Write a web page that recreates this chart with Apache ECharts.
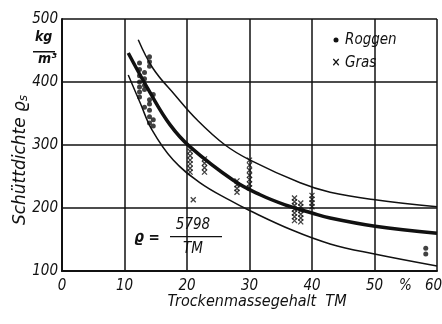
<!DOCTYPE html>
<html><head><meta charset="utf-8">
<script src="https://cdn.jsdelivr.net/npm/echarts@6/dist/echarts.min.js"></script>
<style>html,body{margin:0;padding:0;background:#fff}#c{width:442px;height:324px}</style>
</head><body><div id="c"></div>
<script>
var xTicks = [0, 10, 20, 30, 40, 50, 60];
var yTicks = [100, 200, 300, 400, 500];

var roggenTM  = [12.4,12.4,12.4,12.4,12.4,12.4,12.4, 13.2,13.2,13.2,13.2,13.2, 14.0,14.0,14.0,14.0,14.0,14.0,14.0,14.0, 14.6,14.6,14.6, 58.2,58.2];
var roggenRho = [430,420,410,400,392,384,376, 415,405,395,388,360, 440,432,425,372,365,355,345,335, 380,340,330, 136,127];

var grasTM  = [20.5,20.5,20.5,20.5,20.5,20.5, 21.0, 22.8,22.8,22.8,22.8, 28.0,28.0,28.0,28.0, 30.0,30.0,30.0,30.0,30.0,30.0,30.0, 37.2,37.2,37.2,37.2,37.2,37.2,37.2, 38.2,38.2,38.2,38.2,38.2,38.2, 40.0,40.0,40.0,40.0];
var grasRho = [290,283,276,270,263,257, 213, 278,271,264,257, 243,237,231,225, 276,268,260,252,245,238,232, 216,210,204,198,192,186,180, 208,202,196,190,184,178, 220,214,208,202];

var upperTM  = [12.2,14.6,18.1,21.6,26.1,30.1,38.1,42.9,50.1,60];
var upperRho = [467,421,379,340,300,276,240,225,213,202];
var midTM    = [10.6,14.1,17.3,20.5,27.4,31.7,35.7,40,42.9,50.1,60];
var midRho   = [446,383,332,297,244,221,205,192,184,171,160];
var lowerTM  = [10.6,12.5,14.4,17.8,22.1,26.9,30,36.8,42.9,50,60];
var lowerRho = [411,367,324,276,240,212,196,165,143,127,108];

function pairs(a, b) { return a.map(function (v, i) { return [v, b[i]]; }); }

var FONT = '"Liberation Sans Narrow","DejaVu Sans Condensed",sans-serif';
var INK = '#111';

var chart = echarts.init(document.getElementById('c'));
chart.setOption({
  animation: false,
  backgroundColor: '#fff',
  grid: { left: 62, right: 5, top: 19, bottom: 53, outerBoundsMode: 'none', containLabel: false },
  xAxis: {
    type: 'value', min: 0, max: 60, interval: 10,
    axisLine: { show: true, lineStyle: { color: INK, width: 2 } },
    axisTick: { show: false },
    splitLine: { show: true, lineStyle: { color: INK, width: 1.5 } },
    axisLabel: { color: INK, fontFamily: FONT, fontStyle: 'italic', fontSize: 15, margin: 8,
      formatter: function (v) {
        if (xTicks.indexOf(v) < 0) return '';
        return v === 60 ? '{r|' + v + '}' : String(v);
      },
      rich: { r: { fontFamily: FONT, fontStyle: 'italic', fontSize: 15, color: INK, padding: [0, 7, 0, 0] } } }
  },
  yAxis: {
    type: 'value', min: 100, max: 500, interval: 100,
    axisLine: { show: true, lineStyle: { color: INK, width: 2 } },
    axisTick: { show: false },
    splitLine: { show: true, lineStyle: { color: INK, width: 1.5 } },
    axisLabel: { color: INK, fontFamily: FONT, fontStyle: 'italic', fontSize: 15, margin: 4,
      formatter: function (v) { return yTicks.indexOf(v) >= 0 ? String(v) : ''; } }
  },
  series: [
    { type: 'line', data: pairs(upperTM, upperRho), smooth: 0.4, symbol: 'none',
      lineStyle: { color: INK, width: 1.5 }, z: 3 },
    { type: 'line', data: pairs(midTM, midRho), smooth: 0.4, symbol: 'none',
      lineStyle: { color: INK, width: 3.5 }, z: 3 },
    { type: 'line', data: pairs(lowerTM, lowerRho), smooth: 0.4, symbol: 'none',
      lineStyle: { color: INK, width: 1.5 }, z: 3 },
    { type: 'scatter', name: 'Roggen', data: pairs(roggenTM, roggenRho), symbol: 'circle', symbolSize: 5,
      itemStyle: { color: INK }, z: 4 },
    { type: 'scatter', name: 'Gras', data: pairs(grasTM, grasRho), symbol: 'path://M0,0L10,10M10,0L0,10', symbolSize: 5,
      itemStyle: { color: 'none', borderColor: INK, borderWidth: 1.3 }, z: 4 }
  ],
  graphic: [
    { type: 'text', left: 399, top: 279, style: { text: '%', fill: INK, font: 'italic 15px ' + FONT } },
    { type: 'text', left: 35, top: 30, style: { text: 'kg', fill: INK, font: 'italic bold 14px ' + FONT } },
    { type: 'rect', shape: { x: 33, y: 51, width: 22, height: 1.5 }, style: { fill: INK } },
    { type: 'text', left: 38, top: 52, style: { text: 'm³', fill: INK, font: 'italic bold 14px ' + FONT } },
    { type: 'text', x: 21, y: 160, rotation: Math.PI / 2,
      style: { text: 'Schüttdichte ϱ{s|s}', fill: INK, font: 'italic 17px "DejaVu Sans",sans-serif',
        align: 'center', verticalAlign: 'middle',
        rich: { s: { fontSize: 12, fontStyle: 'italic', fontFamily: 'DejaVu Sans', verticalAlign: 'bottom', padding: [6, 0, 0, 0] } } } },
    { type: 'text', x: 257, y: 302, style: { text: 'Trockenmassegehalt  TM', fill: INK, font: 'italic 16px ' + FONT, align: 'center', verticalAlign: 'middle' } },
    { type: 'circle', shape: { cx: 336, cy: 40, r: 2.5 }, style: { fill: INK } },
    { type: 'text', x: 345, y: 40, style: { text: 'Roggen', fill: INK, font: 'italic 15px ' + FONT, verticalAlign: 'middle' } },
    { type: 'text', x: 336, y: 63, style: { text: '×', fill: INK, font: 'bold 12px ' + FONT, align: 'center', verticalAlign: 'middle' } },
    { type: 'text', x: 345, y: 63, style: { text: 'Gras', fill: INK, font: 'italic 15px ' + FONT, verticalAlign: 'middle' } },
    { type: 'text', x: 147, y: 238, style: { text: 'ϱ =', fill: INK, font: 'italic bold 15px ' + FONT, align: 'center', verticalAlign: 'middle' } },
    { type: 'text', x: 193, y: 225, style: { text: '5798', fill: INK, font: 'italic 15px ' + FONT, align: 'center', verticalAlign: 'middle' } },
    { type: 'rect', shape: { x: 170, y: 236, width: 52, height: 1.2 }, style: { fill: INK } },
    { type: 'text', x: 193, y: 249, style: { text: 'TM', fill: INK, font: 'italic 15px ' + FONT, align: 'center', verticalAlign: 'middle' } }
  ]
});
</script>
</body></html>
